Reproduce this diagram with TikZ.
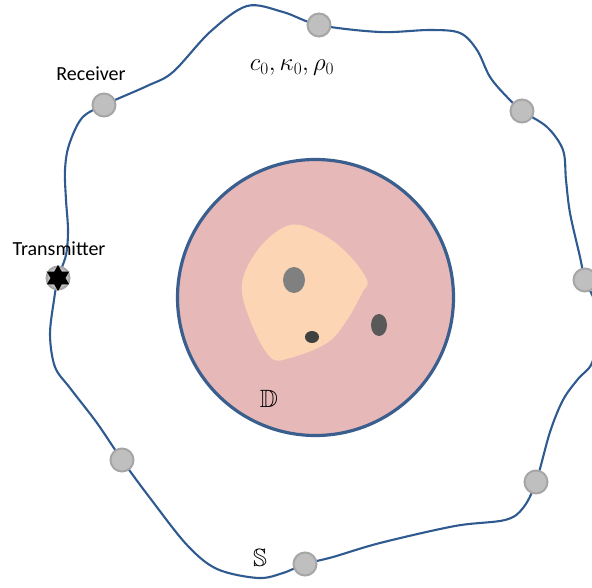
\documentclass[tikz,border=0pt]{standalone}
\usepackage{fontspec}
\usepackage{amssymb}
\newfontfamily\calib{Carlito}
\usetikzlibrary{shapes.geometric}
\definecolor{curveblue}{HTML}{2F5A8F}
\definecolor{rimblue}{HTML}{3A5F8F}
\definecolor{domfill}{HTML}{E6B8B7}
\definecolor{blobfill}{HTML}{FCD5B5}
\definecolor{sensfill}{HTML}{BFBFBF}
\definecolor{sensrim}{HTML}{A6A6A6}
\tikzset{
  sensor/.style={circle,fill=sensfill,draw=sensrim,line width=2pt,minimum size=23pt,inner sep=0pt},
  lbl/.style={font=\calib\fontsize{20}{24}\selectfont,inner sep=0pt},
  mlbl/.style={inner sep=0pt,font=\fontsize{23}{27}\selectfont},
}
\begin{document}
\begin{tikzpicture}[x=1pt,y=-1pt]
\useasboundingbox (0,0) rectangle (592,588);
\clip (0,0) rectangle (592,588);
% domain
\node[circle,fill=domfill,draw=rimblue,line width=3.2pt,minimum size=276pt,inner sep=0pt] (D) at (315.5,297.5) {};
\fill[blobfill] plot[smooth cycle,tension=0.6] coordinates {(290,225) (320,233) (347,253) (367,280) (362,293) (347,320) (327,343) (290,358) (270,357) (250,320) (242,283) (260,247)};
\node[ellipse,fill=black!50,minimum width=22pt,minimum height=26pt,inner sep=0pt] (e1) at (294,280) {};
\node[ellipse,fill=black!75,minimum width=14pt,minimum height=12pt,inner sep=0pt] (e2) at (312,337) {};
\node[ellipse,fill=black!65,minimum width=16pt,minimum height=22pt,inner sep=0pt] (e3) at (379,325) {};
% boundary curve
\draw[curveblue,line width=2.1pt] plot[smooth cycle,tension=0.55] coordinates {
 (319,25) (380,32) (430,30) (460,33) (477,50) (490,77) (507,97) (522,111)
 (547,127) (563,150) (566,180) (570,213) (580,257) (585,280) (594,300)
 (598,330) (592,363) (578,379) (563,400) (550,432) (536,482) (523,508)
 (505,520) (455,526) (380,543) (333,557) (305,564) (283,573) (258,578)
 (217,569) (187,545) (150,498) (122,460) (97,423) (70,388) (55,367)
 (50,335) (54,300) (58,278) (66,255) (68,230) (66,200) (65,170) (69,145)
 (82,118) (104,105) (147,86) (173,72) (210,32) (247,6) (283,12)};
% sensors
\node[sensor] (s1) at (319,25) {};
\node[sensor] (s2) at (522,111) {};
\node[sensor] (s3) at (585,280) {};
\node[sensor] (s4) at (536,482) {};
\node[sensor] (s5) at (305,564) {};
\node[sensor] (s6) at (122,460) {};
\node[sensor] (rx) at (104,105) {};
\node[sensor] (tx) at (58,278) {};
\node[star,star points=6,star point ratio=1.75,fill=black,minimum size=26pt,inner sep=0pt] (txs) at (58,278) {};
% labels
\node[lbl] (lrx) at (91,74) {Receiver};
\node[lbl] (ltx) at (59,249) {Transmitter};
\node[mlbl] (lmed) at (292,68) {$c_0,\kappa_0,\rho_0$};
\node[mlbl,font=\fontsize{25}{29}\selectfont] (lD) at (269,399) {$\mathbb{D}$};
\node[mlbl,font=\fontsize{25}{29}\selectfont] (lS) at (260,558) {$\mathbb{S}$};
\end{tikzpicture}
\end{document}
